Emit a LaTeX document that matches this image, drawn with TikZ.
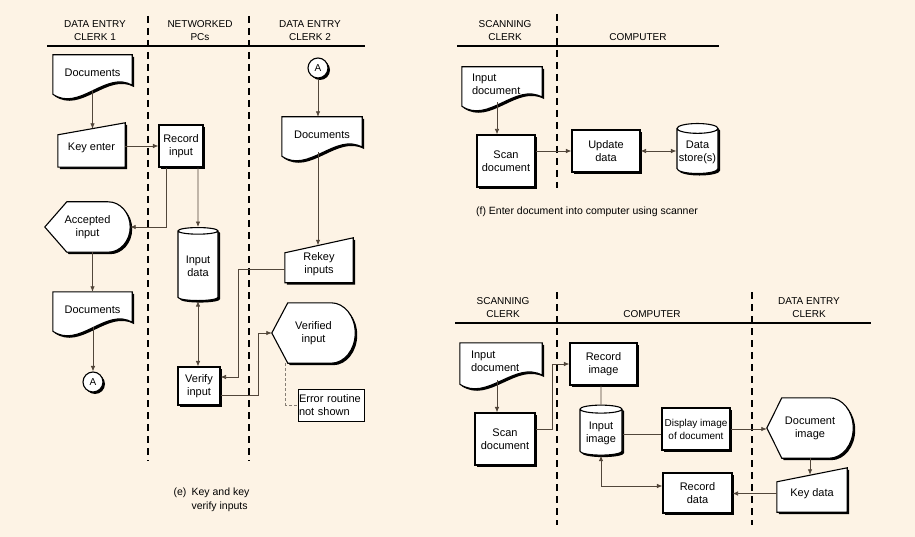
\documentclass[tikz,border=0pt]{standalone}
\usepackage{fontspec}
\setmainfont{Liberation Sans}
\usetikzlibrary{arrows.meta, calc, shapes.geometric, shadows, backgrounds}

\definecolor{paper}{RGB}{253,243,229}
\definecolor{wire}{RGB}{82,70,58}

\tikzset{
  header/.style={font=\fontsize{10}{13}\selectfont, align=center},
  caption/.style={font=\fontsize{10.5}{14}\selectfont, align=left},
  lane/.style={line width=1.3pt, dash pattern=on 7pt off 5pt},
  rule/.style={line width=1.2pt},
  shadowed/.style={drop shadow={shadow xshift=2pt, shadow yshift=-2pt, fill=black, opacity=1}},
  outline/.style={draw=black, fill=white, line width=1.1pt, shadowed},
  boxtext/.style={font=\fontsize{11}{13}\selectfont, align=center, inner sep=1pt},
  procbox/.style={boxtext, outline, rectangle},
  shapebox/.style={boxtext, rectangle},
  store/.style={boxtext, outline, cylinder, shape border rotate=90, aspect=0.25},
  connector/.style={circle, outline, minimum size=20pt, inner sep=0pt, font=\fontsize{10}{12}\selectfont},
  wireline/.style={draw=wire, line width=0.8pt},
  flow/.style={wireline, -{Latex[length=5.5pt,width=4.5pt]}},
  flowboth/.style={wireline, {Latex[length=5.5pt,width=4.5pt]}-{Latex[length=5.5pt,width=4.5pt]}},
  note/.style={draw=wire!70, line width=0.7pt, dash pattern=on 3pt off 2pt}
}

% outlines drawn round the text nodes
\newcommand{\docshape}[1]{%
  \path[outline] (#1.north west) -- (#1.north east) -- ($(#1.south east)+(0,-5)$)
    .. controls ($(#1.south west)!0.67!(#1.south east)+(0,-20)$)
    and ($(#1.south west)!0.33!(#1.south east)+(0,22)$) .. ($(#1.south west)+(0,4)$) -- cycle;}
\newcommand{\manshape}[2]{%
  \path[outline] ($(#1.north west)+(0,#2)$) -- ($(#1.north east)+(0,-#2)$)
    -- (#1.south east) -- (#1.south west) -- cycle;}
\newcommand{\dispshape}[3]{%
  \path[outline] let \p1 = ($(#1.north)-(#1.south)$) in
    (#1.west) -- ($(#1.north west)+(#2,0)$) -- ($(#1.north east)+(-#3,0)$)
    arc[start angle=90, end angle=-90, x radius=#3pt, y radius=0.5*\y1]
    -- ($(#1.south west)+(#2,0)$) -- cycle;}

\begin{document}
\begin{tikzpicture}[x=1pt, y=-1pt]

\useasboundingbox (0,0) rectangle (915,537);

% (e) key and key verify
\node[header] (hClerk1) at (95,31) {DATA ENTRY\\CLERK 1};
\node[header] (hNet) at (200,31) {NETWORKED\\PCs};
\node[header] (hClerk2) at (310,31) {DATA ENTRY\\CLERK 2};
\draw[rule] (47,46) -- (365,46);
\draw[lane] (148,16) -- (148,461);
\draw[lane] (249,16) -- (249,461);

\node[shapebox, minimum width=79pt, minimum height=35pt] (docA) at (92.5,72.5) {Documents};
\node[shapebox, minimum width=67pt, minimum height=38pt] (keyA) at (91.5,148) {Key enter};
\node[procbox, minimum width=44pt, minimum height=42pt] (recA) at (181,146) {Record\\input};
\node[shapebox, minimum width=85pt, minimum height=50pt] (accA) at (87.5,227) {Accepted\\input};
\node[shapebox, minimum width=79pt, minimum height=35pt] (docB) at (92.5,309.5) {Documents};
\node[connector] (cirA1) at (93,382) {A};
\node[store, minimum width=40pt, minimum height=73pt] (dataA) at (198,266.5) {Input\\data};
\node[procbox, minimum width=42pt, minimum height=38pt] (verA) at (199,386) {Verify\\input};
\node[connector] (cirA2) at (318,68) {A};
\node[shapebox, minimum width=80pt, minimum height=35pt] (docC) at (322,134.5) {Documents};
\node[shapebox, minimum width=68pt, minimum height=37pt] (rekA) at (319,264) {Rekey\\inputs};
\node[shapebox, minimum width=83pt, minimum height=60pt] (vinA) at (313.5,333) {Verified\\input};
\node[boxtext, draw, fill=white, line width=0.6pt, text width=64pt, align=left,
      minimum height=32pt] (errA) at (331,405) {Error routine\\not shown};
\node[caption, anchor=north west] (capE) at (170,484)
  {(e)\enspace Key and key\\\phantom{(e)\enspace}verify inputs};

% (f) scanner
\node[header] (hScan1) at (505,31) {SCANNING\\CLERK};
\node[header] (hComp1) at (638,37) {COMPUTER};
\draw[rule] (457,46) -- (719,46);
\draw[lane] (557,14) -- (557,188);

\node[shapebox, text width=60pt, align=left, minimum width=80pt, minimum height=35pt] (docF) at (502,84.5) {Input\\document};
\node[procbox, minimum width=58pt, minimum height=52pt] (scanF) at (506,161) {Scan\\document};
\node[procbox, minimum width=68pt, minimum height=42pt] (updF) at (606,151) {Update\\data};
\node[store, minimum width=41pt, minimum height=50pt] (storeF) at (697.5,152) {Data\\store(s)};
\node[caption] (capF) at (587,212) {(f) Enter document into computer using scanner};

% (g) scanned image keyed
\node[header] (hScan2) at (503,308) {SCANNING\\CLERK};
\node[header] (hComp2) at (652,314) {COMPUTER};
\node[header] (hClerk3) at (809,308) {DATA ENTRY\\CLERK};
\draw[rule] (455,323) -- (871,323);
\draw[lane] (557,292) -- (557,525);
\draw[lane] (752,292) -- (752,525);

\node[shapebox, text width=60pt, align=left, minimum width=82pt, minimum height=37pt] (docG) at (501,361.5) {Input\\document};
\node[procbox, minimum width=60pt, minimum height=52pt] (scanG) at (505,439) {Scan\\document};
\node[procbox, minimum width=67pt, minimum height=42pt] (recG) at (603.5,364) {Record\\image};
\node[store, minimum width=42pt, minimum height=50pt] (imgG) at (601,433) {Input\\image};
\node[procbox, font=\fontsize{10}{13}\selectfont, minimum width=68pt, minimum height=42pt] (dispG) at (696,429) {Display image\\of document};
\node[shapebox, minimum width=86pt, minimum height=60pt] (dimG) at (810,428) {Document\\image};
\node[shapebox, minimum width=70pt, minimum height=37pt] (keyG) at (812,493.5) {Key data};
\node[procbox, minimum width=69pt, minimum height=40pt] (recdG) at (697.5,493) {Record\\data};

\begin{scope}[on background layer]
  \fill[paper] (0,0) rectangle (915,537);
  \foreach \d in {docA,docB,docC,docF,docG} {\docshape{\d}}
  \manshape{keyA}{6}
  \manshape{rekA}{7.5}
  \manshape{keyG}{7}
  \dispshape{accA}{22}{22}
  \dispshape{vinA}{16}{24}
  \dispshape{dimG}{15}{24}
\end{scope}

% Connectors (e)
\draw[flow] (docA.south) -- (docA.south |- keyA.north);
\draw[flow] (keyA.east |- recA) -- (recA.west);
\draw[flow] ([xshift=-15pt]recA.south) |- (accA.east);
\draw[flow] (recA.south -| dataA) -- (dataA.north);
\draw[flow] (accA.south -| docB) -- (docB.north);
\draw[flow] (docB.south -| cirA1) -- (cirA1.north);
\draw[flowboth] (dataA.south) -- (dataA.south |- verA.north);
\draw[flow] (cirA2.south) -- (cirA2.south |- docC.north);
\draw[flow] (docC.south -| cirA2) -- (rekA.north -| cirA2);
\draw[flow] ([yshift=-5pt]rekA.west) -- ++(-46,0) |- ([yshift=9pt]verA.east);
\draw[flow] ([yshift=-9pt]verA.east) -- ++(38,0) |- (vinA.west);
\draw[note] ([xshift=14pt]vinA.south west) |- (errA.west);

% Connectors (f)
\draw[flow] ([xshift=-5pt]docF.south) -- ([xshift=-5pt]docF.south |- scanF.north);
\draw[flow] (scanF.east |- updF) -- (updF.west);
\draw[flowboth] (updF.east) -- (updF.east -| storeF.west);

% Connectors (g)
\draw[flow] ([xshift=-4pt]docG.south) -- ([xshift=-4pt]docG.south |- scanG.north);
\draw[flow] ([yshift=10pt]scanG.east) -- ++(17,0) |- (recG.west);
\draw[wireline] (recG.south -| imgG) -- (imgG.north);
\draw[wireline] ([yshift=-5pt]dispG.west) -- ([yshift=-5pt]dispG.west -| imgG.east);
\draw[flow] (dispG.east) -- (dispG.east -| dimG.west);
\draw[flow] (dimG.south) -- (dimG.south |- keyG.north);
\draw[flow] (keyG.west) -- (keyG.west -| recdG.east);
\draw[flowboth] (imgG.south) |- ([yshift=7pt]recdG.west);

\end{tikzpicture}
\end{document}
